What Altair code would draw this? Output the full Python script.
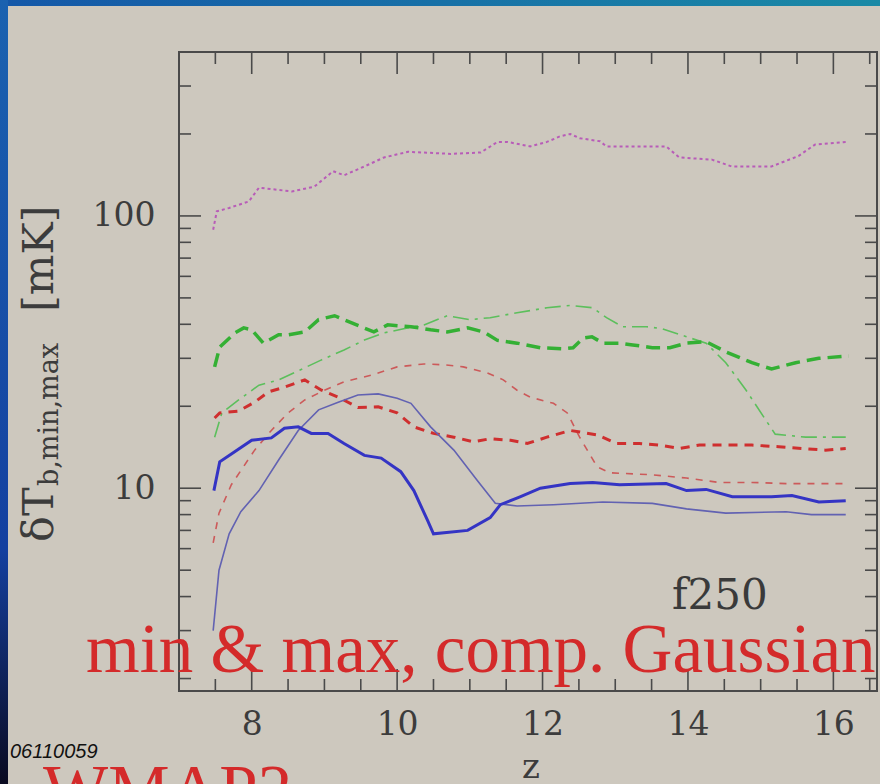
import altair as alt
import pandas as pd

# ---- series: redshift z and brightness-temperature extremes [mK] ----
mag_dot_x = [7.47, 7.52, 7.69, 7.96, 8.10, 8.55, 8.86, 9.12, 9.27, 9.55, 9.82, 10.15, 10.74,
             11.15, 11.24, 11.38, 11.52, 11.83, 12.06, 12.24, 12.38, 12.51, 12.79, 12.88,
             13.24, 13.70, 13.88, 14.33, 14.60, 15.15, 15.52, 15.75, 16.18]
mag_dot_y = [89, 104, 107, 113, 127, 123, 128, 146, 141, 152, 164, 172, 169,
             171, 177, 187, 187, 180, 187, 196, 200, 193, 188, 180,
             180, 180, 164, 161, 152, 152, 166, 183, 187]

green_thick_x = [7.49, 7.56, 7.77, 7.89, 8.00, 8.16, 8.37, 8.50, 8.73, 8.92, 9.14, 9.27, 9.50,
                 9.68, 9.87, 10.19, 10.46, 10.69, 10.97, 11.19, 11.38, 11.65, 11.97, 12.28,
                 12.42, 12.56, 12.68, 12.83, 13.06, 13.24, 13.51, 13.75, 13.98, 14.25, 14.52,
                 14.88, 15.15, 15.48, 15.80, 16.21]
green_thick_y = [27.9, 33.0, 37.2, 38.8, 38.2, 34.1, 36.6, 36.6, 37.5, 41.6, 43.0, 41.6, 39.2,
                 37.5, 39.8, 39.2, 38.2, 37.5, 38.8, 37.5, 34.9, 34.1, 32.8, 32.5,
                 32.8, 35.6, 36.0, 34.1, 34.1, 33.6, 32.8, 32.8, 34.1, 34.5, 31.7,
                 28.9, 27.4, 28.9, 30.0, 30.6]

green_thin_x = [7.49, 7.59, 7.82, 8.10, 8.37, 8.73, 8.96, 9.27, 9.55, 9.82, 10.09, 10.37, 10.69,
                11.00, 11.28, 11.65, 12.06, 12.38, 12.69, 12.88, 13.10, 13.43, 13.65, 13.98,
                14.25, 14.52, 14.80, 15.07, 15.20, 15.62, 16.17]
green_thin_y = [15.4, 18.9, 21.1, 23.9, 25.0, 27.7, 29.6, 32.2, 35.0, 37.2, 38.5, 39.8, 43.0,
                41.6, 42.3, 44.1, 46.0, 46.9, 46.0, 42.3, 39.2, 39.2, 38.5, 36.0,
                34.1, 28.9, 22.9, 17.8, 15.8, 15.4, 15.4]

red_thick_x = [7.49, 7.56, 7.82, 8.04, 8.23, 8.45, 8.73, 8.96, 9.19, 9.46, 9.74, 10.00, 10.23,
               10.50, 10.78, 11.05, 11.28, 11.56, 11.79, 12.06, 12.38, 12.75, 13.02, 13.33,
               13.61, 13.88, 14.16, 14.52, 14.88, 15.25, 15.57, 15.89, 16.17]
red_thick_y = [18.1, 18.9, 19.2, 20.7, 22.6, 23.5, 25.0, 22.9, 21.6, 19.8, 19.9, 18.9, 16.8,
               15.9, 15.4, 14.8, 15.2, 15.0, 14.6, 15.4, 16.3, 15.7, 14.6, 14.6,
               14.4, 14.0, 14.4, 14.4, 14.4, 14.2, 14.0, 13.8, 14.0]

red_thin_x = [7.47, 7.55, 7.72, 8.04, 8.27, 8.50, 8.73, 9.00, 9.27, 9.64, 10.00, 10.37, 10.64,
              10.91, 11.24, 11.46, 11.65, 11.83, 12.15, 12.34, 12.51, 12.75, 12.92, 13.51,
              13.98, 14.43, 14.88, 15.35, 15.80, 16.17]
red_thin_y = [6.3, 8.1, 10.3, 13.8, 16.3, 18.9, 21.1, 22.9, 24.6, 26.0, 27.9, 28.6, 28.4,
              27.9, 26.5, 25.0, 22.9, 21.6, 20.5, 18.9, 15.4, 12.0, 11.4, 11.2,
              10.9, 10.5, 10.5, 10.4, 10.4, 10.4]

blue_thick_x = [7.48, 7.56, 7.73, 8.00, 8.27, 8.45, 8.64, 8.82, 9.05, 9.27, 9.55, 9.78, 10.05,
                10.23, 10.42, 10.50, 10.97, 11.28, 11.42, 11.69, 11.97, 12.38, 12.69, 13.06,
                13.70, 13.98, 14.25, 14.61, 15.15, 15.43, 15.80, 16.17]
blue_thick_y = [9.8, 12.5, 13.4, 15.0, 15.3, 16.6, 16.8, 15.9, 15.9, 14.6, 13.2, 12.9, 11.5,
                9.8, 7.6, 6.8, 7.0, 7.8, 8.7, 9.3, 10.0, 10.4, 10.5, 10.3,
                10.4, 9.8, 9.9, 9.3, 9.3, 9.4, 8.9, 9.0]

blue_thin_x = [7.47, 7.55, 7.69, 7.85, 8.10, 8.37, 8.64, 8.92, 9.19, 9.46, 9.74, 10.00, 10.19,
               10.46, 10.78, 11.10, 11.35, 11.65, 12.15, 12.83, 13.51, 13.98, 14.52, 15.35,
               15.70, 16.17]
blue_thin_y = [3.0, 5.0, 6.8, 8.2, 9.8, 12.7, 16.3, 19.4, 20.7, 22.0, 22.2, 21.4, 20.5,
               16.8, 13.8, 10.7, 8.8, 8.6, 8.7, 8.9, 8.8, 8.4, 8.1, 8.2,
               8.0, 8.0]

# ---- axis tick positions ----
x_major = [8, 10, 12, 14, 16]
x_minor = [7.5, 8.5, 9, 9.5, 10.5, 11, 11.5, 12.5, 13, 13.5, 14.5, 15, 15.5, 16.5]
y_major = [10, 100]
y_minor = [2, 3, 4, 5, 6, 7, 8, 9, 20, 30, 40, 50, 60, 70, 80, 90, 200, 300]

W, H = 698, 639
BG = "#cdc8be"
AX = "#4a4a4a"
LBL = "#3c3c3c"
RED = "#d42a2a"

xscale = alt.Scale(domain=[7, 16.6], nice=False, zero=False)
yscale = alt.Scale(type="log", domain=[1.8, 400], nice=False)


def xenc(field):
    return alt.X(field, type="quantitative", scale=xscale, title=None,
                 axis=alt.Axis(values=x_major, ticks=False, domain=False, grid=False,
                               labelFont="DejaVu Serif", labelFontSize=33,
                               labelColor=LBL, labelPadding=17, format="d"))


def yenc(field):
    return alt.Y(field, type="quantitative", scale=yscale, title=None,
                 axis=alt.Axis(values=y_major, ticks=False, domain=False, grid=False,
                               labelFont="DejaVu Serif", labelFontSize=33,
                               labelColor=LBL, labelPadding=24, format="d"))


styles = [
    # name, xs, ys, colour, width, dash
    ("mag", mag_dot_x, mag_dot_y, "#b85cb8", 2.0, [3, 3]),
    ("gthin", green_thin_x, green_thin_y, "#5cbf5c", 1.6, [16, 6, 3, 6]),
    ("gthick", green_thick_x, green_thick_y, "#34b034", 3.5, [14, 7]),
    ("rthin", red_thin_x, red_thin_y, "#cc5a5a", 1.6, [7, 7]),
    ("rthick", red_thick_x, red_thick_y, "#cf2f2f", 3.0, [9, 7]),
    ("bthin", blue_thin_x, blue_thin_y, "#6262b2", 1.6, None),
    ("bthick", blue_thick_x, blue_thick_y, "#3434c4", 3.0, None),
]

layers = []
for name, xs, ys, col, sw, dash in styles:
    df = pd.DataFrame({"x": xs, "y": ys})
    kw = dict(color=col, strokeWidth=sw, clip=True)
    if dash:
        kw["strokeDash"] = dash
    layers.append(alt.Chart(df).mark_line(**kw).encode(x=xenc("x"), y=yenc("y")))


# inward ticks on all four sides of the frame
def xticks(vals, length):
    d = pd.DataFrame({"x": vals})
    bottom = alt.Chart(d).mark_rule(color=AX, strokeWidth=1.6).encode(
        x=xenc("x"), y=alt.value(H), y2=alt.value(H - length))
    top = alt.Chart(d).mark_rule(color=AX, strokeWidth=1.6).encode(
        x=xenc("x"), y=alt.value(0), y2=alt.value(length))
    return [bottom, top]


def yticks(vals, length):
    d = pd.DataFrame({"y": vals})
    left = alt.Chart(d).mark_rule(color=AX, strokeWidth=1.6).encode(
        y=yenc("y"), x=alt.value(0), x2=alt.value(length))
    right = alt.Chart(d).mark_rule(color=AX, strokeWidth=1.6).encode(
        y=yenc("y"), x=alt.value(W), x2=alt.value(W - length))
    return [left, right]


ticks = xticks(x_major, 22) + xticks(x_minor, 12) + yticks(y_major, 22) + yticks(y_minor, 12)


def label(text, x, y, **kw):
    return alt.Chart(pd.DataFrame({"t": [text]})).mark_text(**kw).encode(
        text="t:N", x=alt.value(x), y=alt.value(y))


texts = [
    label("f250", 493, 557, font="DejaVu Serif", fontSize=42, color="#3a3a3a",
          align="left", baseline="alphabetic"),
    label("min & max, comp. Gaussian", -93, 620, font="Liberation Serif", fontSize=69,
          color=RED, align="left", baseline="alphabetic"),
    label("z", 352, 726, font="DejaVu Serif", fontSize=34, color=LBL,
          align="center", baseline="alphabetic"),
    label("06110059", -169, 706, font="Liberation Sans", fontSize=20, fontStyle="italic",
          color="#111111", align="left", baseline="alphabetic"),
    label("WMAP2", -136, 761, font="Liberation Serif", fontSize=69, color=RED,
          align="left", baseline="alphabetic"),
    # rotated y title: δT_{b,min,max} [mK]
    label("δT", -126, 490, font="DejaVu Serif", fontSize=43, color=LBL, angle=270,
          align="left", baseline="alphabetic"),
    label("b,min,max", -121, 434, font="DejaVu Serif", fontSize=27, color=LBL, angle=270,
          align="left", baseline="alphabetic"),
    label("[mK]", -126, 260, font="DejaVu Serif", fontSize=43, color=LBL, angle=270,
          align="left", baseline="alphabetic"),
]

# slide border strips (top and left)
border = [
    alt.Chart(pd.DataFrame({"k": [0]})).mark_rect(
        fill=alt.LinearGradient(gradient="linear", x1=0, x2=1, y1=0, y2=0,
                                stops=[alt.GradientStop(offset=0, color="#1457a8"),
                                       alt.GradientStop(offset=1, color="#1a8aa6")])
    ).encode(x=alt.value(-179), x2=alt.value(701), y=alt.value(-52), y2=alt.value(-46)),
    alt.Chart(pd.DataFrame({"k": [0]})).mark_rect(
        fill=alt.LinearGradient(gradient="linear", x1=0, x2=0, y1=0, y2=1,
                                stops=[alt.GradientStop(offset=0, color="#1a62b0"),
                                       alt.GradientStop(offset=0.7, color="#1440a0"),
                                       alt.GradientStop(offset=1, color="#0a0a20")])
    ).encode(x=alt.value(-179), x2=alt.value(-171), y=alt.value(-52), y2=alt.value(732)),
]

chart = alt.layer(*border, *ticks, *layers, *texts).properties(
    width=W, height=H, background=BG,
    padding={"left": 179, "top": 52, "right": 3, "bottom": 93},
    autosize=alt.AutoSizeParams(type="none"),
).configure_view(stroke=AX, strokeWidth=2)

chart.save("out.html", embed_options={"renderer": "svg", "actions": False})
